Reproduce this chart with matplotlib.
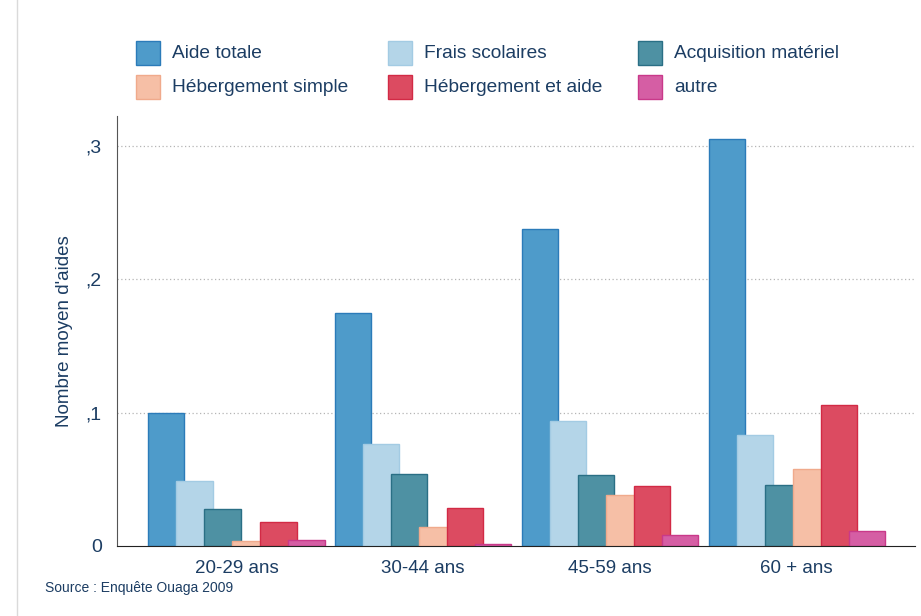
import matplotlib.pyplot as plt
import numpy as np
from matplotlib.patches import Rectangle
from matplotlib.lines import Line2D

plt.rcParams['font.family'] = ['Liberation Sans', 'DejaVu Sans']

groups = ['20-29 ans', '30-44 ans', '45-59 ans', '60 + ans']
series = ['Aide totale', 'Frais scolaires', 'Acquisition matériel',
          'Hébergement simple', 'Hébergement et aide', 'autre']
aide_totale = [0.100, 0.1745, 0.238, 0.305]
frais_scolaires = [0.049, 0.0765, 0.094, 0.0835]
acquisition = [0.0275, 0.054, 0.0535, 0.046]
heberg_simple = [0.0035, 0.0143, 0.038, 0.058]
heberg_aide = [0.018, 0.0285, 0.045, 0.106]
autre = [0.0043, 0.0012, 0.008, 0.0115]
values = [aide_totale, frais_scolaires, acquisition, heberg_simple, heberg_aide, autre]
yticks = [0, 0.1, 0.2, 0.3]
ytick_labels = ['0', ',1', ',2', ',3']

faces = ['#4e9bca', '#b4d5e8', '#4e91a3', '#f6bfa6', '#dc4b61', '#d55ea4']
edges = ['#2b7bb9', '#a3cbe3', '#2a6f85', '#f0aa8c', '#d22a45', '#c9398a']
navy = '#1c3d63'

fig = plt.figure(figsize=(9.21, 6.16), dpi=100)
W, H = 921, 616
ax = fig.add_axes([117 / W, 1 - 546 / H, (915 - 117) / W, (546 - 116) / H])

x = np.arange(len(groups))
step = 0.15
width = 0.193
for i, vals in enumerate(values):
    ax.bar(x - 2.5 * step + i * step, vals, width, color=faces[i],
           edgecolor=edges[i], linewidth=1.0, zorder=3 + i)

ax.set_xlim(-0.64, 3.634)
ax.set_ylim(0, 0.3225)
ax.set_yticks(yticks)
ax.set_yticklabels(ytick_labels)
ax.set_xticks(x)
ax.set_xticklabels(groups)
ax.tick_params(axis='y', length=0, pad=11, labelsize=14, labelcolor=navy)
ax.tick_params(axis='x', length=0, pad=10, labelsize=13.5, labelcolor=navy)
for t in yticks[1:]:
    ax.axhline(t, color='#b5b5b5', linestyle=(0, (1, 2)), linewidth=0.9, zorder=1)

for s in ['top', 'right']:
    ax.spines[s].set_visible(False)
ax.spines['left'].set_color('#555555')
ax.spines['bottom'].set_color('#222222')
ax.spines['bottom'].set_zorder(10)
ax.set_ylabel("Nombre moyen d'aides", fontsize=13.5, color=navy, labelpad=9)

# legend, drawn by hand in pixel positions
cols = [136, 388, 638]
rows = [53, 87]
for k, name in enumerate(series):
    r, c = divmod(k, 3)
    fig.add_artist(Rectangle((cols[c] / W, 1 - (rows[r] + 12) / H), 24 / W, 24 / H,
                             transform=fig.transFigure, facecolor=faces[k],
                             edgecolor=edges[k], linewidth=1.0))
    fig.text((cols[c] + 36) / W, 1 - rows[r] / H, name, fontsize=13.8,
             color=navy, va='center', ha='left')

fig.text(45 / W, 1 - 588 / H, 'Source : Enquête Ouaga 2009', fontsize=10,
         color=navy, va='center', ha='left')
fig.add_artist(Line2D([17 / W, 17 / W], [0, 1], transform=fig.transFigure,
                      color='#dadada', linewidth=1.0))

fig.savefig('out.png', dpi=100)
